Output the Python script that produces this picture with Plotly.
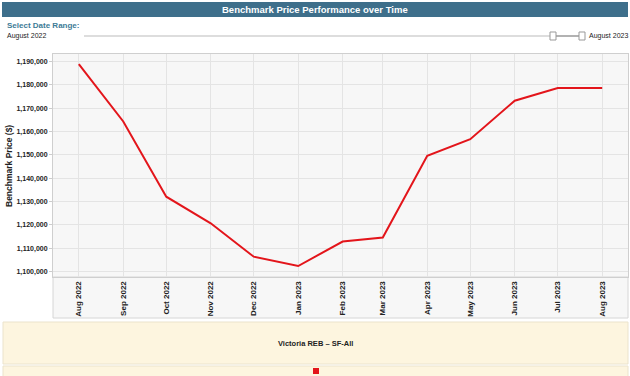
import plotly.graph_objects as go

months = ["2022-08-01", "2022-09-01", "2022-10-01", "2022-11-01", "2022-12-01",
          "2023-01-01", "2023-02-01", "2023-03-01", "2023-04-01", "2023-05-01",
          "2023-06-01", "2023-07-01", "2023-08-01"]
prices = [1188900, 1164300, 1132100, 1120700, 1106400, 1102400, 1112900,
          1114600, 1149600, 1156700, 1173200, 1178600, 1178600]
series_name = "Victoria REB – SF-All"
title_text = "Benchmark Price Performance over Time"
y_title = "Benchmark Price ($)"
range_start_label = "August 2022"
range_end_label = "August 2023"

W, H = 630, 376
L, R, T, B = 53, 628, 54, 277

def px(x):
    return (x - L) / (R - L)

def py(y):
    return (B - y) / (B - T)

FONT = "Liberation Sans, Arial, sans-serif"

fig = go.Figure()
fig.add_trace(go.Scatter(
    x=months, y=prices, mode="lines", name=series_name,
    line=dict(color="#e3151b", width=2), showlegend=False,
    hovertemplate="%{x|%b %Y}: %{y:,.0f}<extra></extra>"))

shapes = []
annotations = []

# title bar
shapes.append(dict(type="rect", xref="paper", yref="paper", x0=px(2), x1=px(628),
                   y0=py(17), y1=py(2), fillcolor="#3e6f8b", line=dict(width=0), layer="below"))
annotations.append(dict(xref="paper", yref="paper", x=px(315), y=py(9.5), text="<b>" + title_text + "</b>",
                        showarrow=False, font=dict(family=FONT, size=9.5, color="white"),
                        xanchor="center", yanchor="middle"))
# select date range
annotations.append(dict(xref="paper", yref="paper", x=px(5), y=py(25), text="<b>Select Date Range:</b>",
                        showarrow=False, font=dict(family=FONT, size=8, color="#3d7b96"),
                        xanchor="left", yanchor="middle"))
annotations.append(dict(xref="paper", yref="paper", x=px(5), y=py(36), text=range_start_label,
                        showarrow=False, font=dict(family=FONT, size=7, color="#222"),
                        xanchor="left", yanchor="middle"))
annotations.append(dict(xref="paper", yref="paper", x=px(630), y=py(36), text=range_end_label,
                        showarrow=False, font=dict(family=FONT, size=7, color="#222"),
                        xanchor="right", yanchor="middle"))
shapes.append(dict(type="line", xref="paper", yref="paper", x0=px(84), x1=px(551), y0=py(36), y1=py(36),
                   line=dict(color="#dddddd", width=2)))
shapes.append(dict(type="line", xref="paper", yref="paper", x0=px(555), x1=px(580), y0=py(36), y1=py(36),
                   line=dict(color="#999999", width=1.5)))
for hx in (553, 582):
    shapes.append(dict(type="rect", xref="paper", yref="paper", x0=px(hx - 3), x1=px(hx + 3),
                       y0=py(40), y1=py(32), fillcolor="white", line=dict(color="#999999", width=1)))

# tick label region box
shapes.append(dict(type="rect", xref="paper", yref="paper", x0=px(53), x1=px(628),
                   y0=py(318), y1=py(277), fillcolor="#f7f7f7", line=dict(color="#d6d6d6", width=1),
                   layer="below"))

# legend box
shapes.append(dict(type="rect", xref="paper", yref="paper", x0=px(3), x1=px(628),
                   y0=py(364), y1=py(322), fillcolor="#fdf5df", line=dict(color="#ebe3cc", width=1),
                   layer="below"))
shapes.append(dict(type="rect", xref="paper", yref="paper", x0=px(3), x1=px(628),
                   y0=py(380), y1=py(366), fillcolor="#fdf5df", line=dict(color="#ebe3cc", width=1),
                   layer="below"))
annotations.append(dict(xref="paper", yref="paper", x=px(315), y=py(343), text="<b>" + series_name + "</b>",
                        showarrow=False, font=dict(family=FONT, size=7.5, color="#222"),
                        xanchor="center", yanchor="middle"))
shapes.append(dict(type="rect", xref="paper", yref="paper", x0=px(313), x1=px(319),
                   y0=py(374), y1=py(368), fillcolor="#e3151b", line=dict(width=0)))

# y axis title
annotations.append(dict(xref="paper", yref="paper", x=px(9), y=py(166), text="<b>" + y_title + "</b>",
                        showarrow=False, textangle=-90, font=dict(family=FONT, size=8.5, color="#222"),
                        xanchor="center", yanchor="middle"))

fig.update_layout(
    width=W, height=H,
    margin=dict(l=L, r=W - R, t=T, b=H - B, pad=0),
    paper_bgcolor="white", plot_bgcolor="#f7f7f7",
    font=dict(family=FONT, size=8, color="#222"),
    shapes=shapes, annotations=annotations,
    xaxis=dict(type="date", range=["2022-07-14", "2023-08-19"], dtick="M1",
               tick0="2022-08-01", tickformat="%b %Y", tickangle=-90,
               showgrid=True, gridcolor="#e4e4e4", gridwidth=1,
               showline=True, linecolor="#cfcfcf", mirror=True,
               ticks="", tickfont=dict(family=FONT, size=8, color="#222", weight="bold"),
               zeroline=False, fixedrange=True),
    yaxis=dict(range=[1097700, 1193200], dtick=10000, tickformat=",d",
               showgrid=True, gridcolor="#e4e4e4", gridwidth=1,
               showline=True, linecolor="#cfcfcf", mirror=True,
               ticks="outside", ticklen=3, tickcolor="#cccccc",
               tickfont=dict(family=FONT, size=7, color="#222", weight="bold"),
               zeroline=False, fixedrange=True),
)

fig.write_html("out.html", config={"displayModeBar": False},
               post_script="document.body.style.margin='0';document.body.style.overflow='hidden';")
